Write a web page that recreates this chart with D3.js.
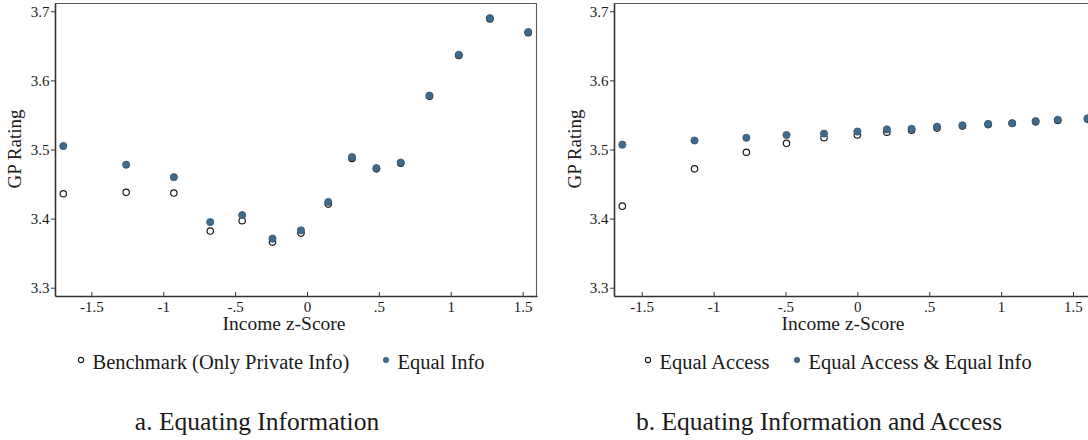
<!DOCTYPE html>
<html>
<head>
<meta charset="utf-8">
<script src="https://cdn.jsdelivr.net/npm/d3@7"></script>
<style>
  html, body { margin: 0; padding: 0; background: #fff; }
  svg { display: block; }
  text { font-family: "Liberation Serif", "Times New Roman", serif; fill: #1a1a1a; }
</style>
</head>
<body>
<svg id="chart" width="1088" height="440"></svg>
<script>
// Tick values and labels shared by both panels
const xTickValues = [-1.5, -1, -0.5, 0, 0.5, 1, 1.5];
const xTickLabels = ["-1.5", "-1", "-.5", "0", ".5", "1", "1.5"];
const yTickValues = [3.3, 3.4, 3.5, 3.6, 3.7];
const yTickLabels = ["3.3", "3.4", "3.5", "3.6", "3.7"];

// Panel a: equating information
const incomeA    = [-1.695, -1.258, -0.926, -0.673, -0.451, -0.240, -0.042, 0.148, 0.313, 0.483, 0.652, 0.852, 1.056, 1.272, 1.539];
const benchmarkA = [3.436, 3.438, 3.437, 3.382, 3.397, 3.366, 3.379, 3.421, 3.487, 3.472, 3.480, 3.577, 3.636, 3.689, 3.669];
const equalInfoA = [3.505, 3.478, 3.460, 3.395, 3.405, 3.371, 3.383, 3.424, 3.489, 3.473, 3.481, 3.578, 3.637, 3.690, 3.670];

// Panel b: equating information and access
const incomeB          = [-1.635, -1.133, -0.772, -0.493, -0.232, 0.000, 0.205, 0.377, 0.554, 0.731, 0.910, 1.077, 1.240, 1.394, 1.601];
const equalAccessB     = [3.418, 3.472, 3.496, 3.509, 3.517, 3.521, 3.525, 3.528, 3.531, 3.534, 3.536, 3.538, 3.540, 3.542, 3.544];
const equalAccessInfoB = [3.507, 3.513, 3.517, 3.521, 3.523, 3.526, 3.529, 3.530, 3.533, 3.535, 3.537, 3.538, 3.541, 3.543, 3.545];

const BLUE = "#41698a";
const BLUE_EDGE = "#2f5878";

const svg = d3.select("#chart");

const panels = [
  {
    left: 55, width: 482, xDomain: [-1.753, 1.600],
    x: incomeA, open: benchmarkA, filled: equalInfoA,
    legendOpen: "Benchmark (Only Private Info)", legendFilled: "Equal Info",
    legendOpenX: 81, legendFilledX: 386,
    xTitleX: 284, yTitleX: 21,
    caption: "a. Equating Information", captionX: 257
  },
  {
    left: 614, width: 482, xDomain: [-1.693, 1.660],
    x: incomeB, open: equalAccessB, filled: equalAccessInfoB,
    legendOpen: "Equal Access", legendFilled: "Equal Access & Equal Info",
    legendOpenX: 648, legendFilledX: 797,
    xTitleX: 843, yTitleX: 581,
    caption: "b. Equating Information and Access", captionX: 819
  }
];

const plotTop = 3, plotBottom = 296;
const y = d3.scaleLinear().domain([3.288, 3.712]).range([plotBottom, plotTop]);

panels.forEach(p => {
  const g = svg.append("g");
  const x = d3.scaleLinear().domain(p.xDomain).range([p.left, p.left + p.width]);

  // plot region outline (top and right)
  g.append("path")
    .attr("d", `M${p.left},${plotTop + 0.5}H${p.left + p.width - 0.5}V${plotBottom}`)
    .attr("fill", "none").attr("stroke", "#5a5a5a").attr("stroke-width", 1.1);

  // y axis
  const yAxis = d3.axisLeft(y)
    .tickValues(yTickValues)
    .tickFormat((d, i) => yTickLabels[i])
    .tickSizeInner(4).tickSizeOuter(0).tickPadding(1.5);
  const ya = g.append("g").attr("transform", `translate(${p.left},0)`).call(yAxis);
  ya.select(".domain").attr("stroke", "#333").attr("stroke-width", 1.6);
  ya.selectAll(".tick line").attr("stroke", "#333").attr("stroke-width", 1);
  ya.selectAll(".tick text").attr("font-size", 15).attr("font-family", "Liberation Serif").attr("fill", "#1a1a1a");

  // x axis, ticks pointing into the plot
  const xAxis = d3.axisBottom(x)
    .tickValues(xTickValues)
    .tickFormat((d, i) => xTickLabels[i])
    .tickSizeInner(-4).tickSizeOuter(0).tickPadding(5);
  const xa = g.append("g").attr("transform", `translate(0,${plotBottom})`).call(xAxis);
  xa.select(".domain").attr("stroke", "#333").attr("stroke-width", 1.6);
  xa.selectAll(".tick line").attr("stroke", "#333").attr("stroke-width", 1);
  xa.selectAll(".tick text").attr("font-size", 15).attr("font-family", "Liberation Serif").attr("fill", "#1a1a1a");

  // axis titles
  g.append("text")
    .attr("x", p.xTitleX).attr("y", 330)
    .attr("text-anchor", "middle").attr("font-size", 19.5)
    .text("Income z-Score");
  g.append("text")
    .attr("transform", `translate(${p.yTitleX},${149}) rotate(-90)`)
    .attr("text-anchor", "middle").attr("font-size", 19)
    .text("GP Rating");

  // markers: hollow series first, filled series on top
  const pts = p.x.map((xv, i) => ({ x: xv, open: p.open[i], filled: p.filled[i] }));
  g.selectAll("circle.open").data(pts).join("circle")
    .attr("class", "open")
    .attr("cx", d => x(d.x)).attr("cy", d => y(d.open)).attr("r", 3.2)
    .attr("fill", "#fff").attr("stroke", "#1a1a1a").attr("stroke-width", 1.2);
  g.selectAll("circle.filled").data(pts).join("circle")
    .attr("class", "filled")
    .attr("cx", d => x(d.x)).attr("cy", d => y(d.filled)).attr("r", 3.6)
    .attr("fill", BLUE).attr("stroke", BLUE_EDGE).attr("stroke-width", 0.8);

  // legend
  const ly = 360;
  g.append("circle").attr("cx", p.legendOpenX).attr("cy", ly).attr("r", 2.6)
    .attr("fill", "#fff").attr("stroke", "#1a1a1a").attr("stroke-width", 1.1);
  g.append("text").attr("x", p.legendOpenX + 11.5).attr("y", 369)
    .attr("font-size", 20.5).text(p.legendOpen);
  g.append("circle").attr("cx", p.legendFilledX).attr("cy", ly).attr("r", 2.8)
    .attr("fill", BLUE).attr("stroke", BLUE_EDGE).attr("stroke-width", 0.6);
  g.append("text").attr("x", p.legendFilledX + 11.5).attr("y", 369)
    .attr("font-size", 20.5).text(p.legendFilled);

  // panel caption
  g.append("text")
    .attr("x", p.captionX).attr("y", 430)
    .attr("text-anchor", "middle").attr("font-size", 25.5)
    .text(p.caption);
});
</script>
</body>
</html>
